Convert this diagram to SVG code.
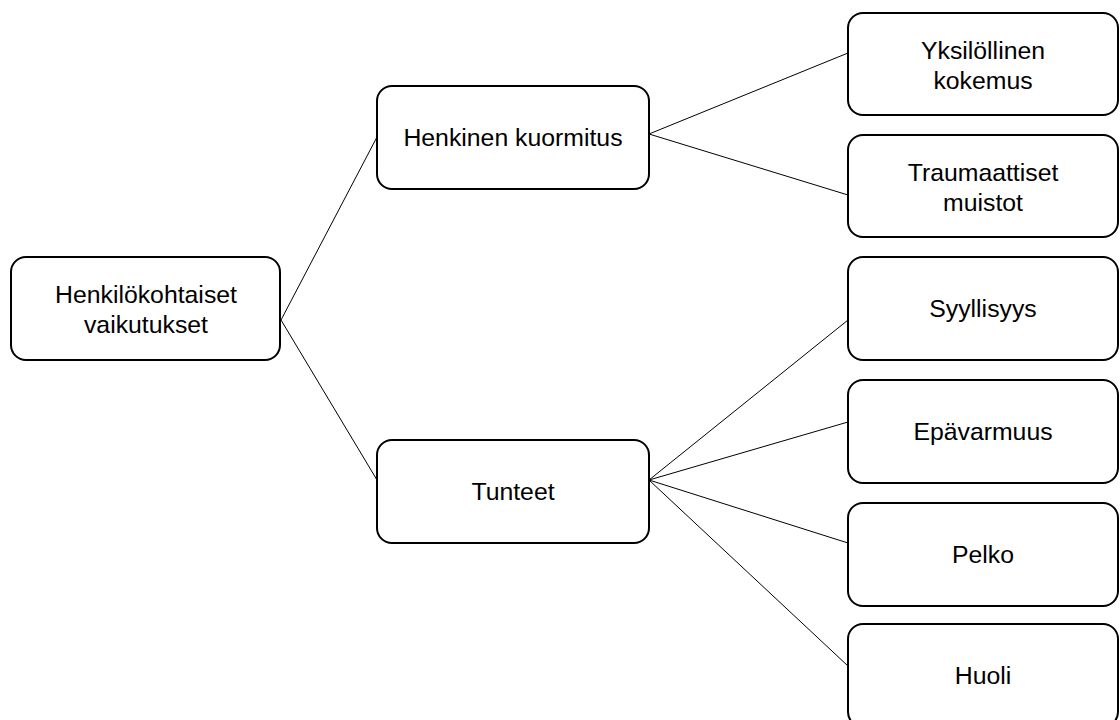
<svg xmlns="http://www.w3.org/2000/svg" width="1120" height="720" viewBox="0 0 1120 720">
  <style>
    .box { fill: #ffffff; stroke: #000000; stroke-width: 2; }
    .lbl { font-family: "Liberation Sans", Arial, sans-serif; font-size: 24.8px; fill: #000000; text-anchor: middle; }
    .link { stroke: #000000; stroke-width: 1; fill: none; }
  </style>
  <rect width="1120" height="720" fill="#ffffff"/>

  <!-- connectors -->
  <g id="connectors" class="link">
    <line x1="281" y1="320" x2="377" y2="137"/>
    <line x1="281" y1="320" x2="377" y2="480"/>
    <line x1="649" y1="134" x2="848" y2="53"/>
    <line x1="649" y1="134" x2="848" y2="195"/>
    <line x1="649" y1="480" x2="848" y2="320"/>
    <line x1="649" y1="480" x2="848" y2="422"/>
    <line x1="649" y1="480" x2="848" y2="543"/>
    <line x1="649" y1="480" x2="848" y2="666"/>
  </g>

  <g id="node-root">
    <rect class="box" x="11" y="257" width="269" height="103" rx="15"/>
    <text class="lbl" x="146" y="303">Henkilökohtaiset</text>
    <text class="lbl" x="146" y="333">vaikutukset</text>
  </g>

  <g id="node-henkinen">
    <rect class="box" x="377" y="86" width="272" height="103" rx="15"/>
    <text class="lbl" x="513" y="146">Henkinen kuormitus</text>
  </g>

  <g id="node-tunteet">
    <rect class="box" x="377" y="440" width="272" height="103" rx="15"/>
    <text class="lbl" x="513" y="500">Tunteet</text>
  </g>

  <g id="node-yksilollinen">
    <rect class="box" x="848" y="13" width="270" height="102" rx="15"/>
    <text class="lbl" x="983" y="58.5">Yksilöllinen</text>
    <text class="lbl" x="983" y="88.5">kokemus</text>
  </g>

  <g id="node-traumaattiset">
    <rect class="box" x="848" y="135" width="270" height="102" rx="15"/>
    <text class="lbl" x="983" y="180.5">Traumaattiset</text>
    <text class="lbl" x="983" y="210.5">muistot</text>
  </g>

  <g id="node-syyllisyys">
    <rect class="box" x="848" y="257" width="270" height="103" rx="15"/>
    <text class="lbl" x="983" y="317">Syyllisyys</text>
  </g>

  <g id="node-epavarmuus">
    <rect class="box" x="848" y="380" width="270" height="103" rx="15"/>
    <text class="lbl" x="983" y="440">Epävarmuus</text>
  </g>

  <g id="node-pelko">
    <rect class="box" x="848" y="503" width="270" height="103" rx="15"/>
    <text class="lbl" x="983" y="563">Pelko</text>
  </g>

  <g id="node-huoli">
    <rect class="box" x="848" y="624" width="270" height="103" rx="15"/>
    <text class="lbl" x="983" y="684">Huoli</text>
  </g>
</svg>
